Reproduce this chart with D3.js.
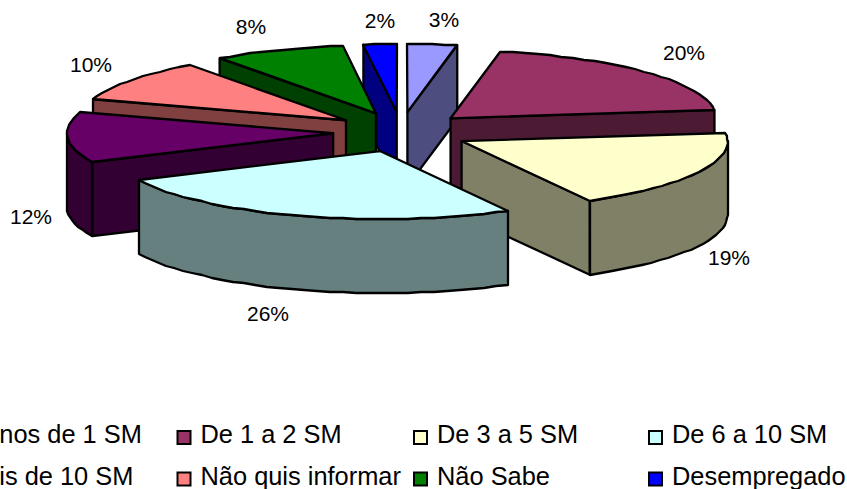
<!DOCTYPE html>
<html>
<head>
<meta charset="utf-8">
<script src="https://cdn.jsdelivr.net/npm/d3@7/dist/d3.min.js"></script>
<style>
  html, body { margin: 0; padding: 0; background: #fff; overflow: hidden; }
  text { font-family: "Liberation Sans", Arial, sans-serif; fill: #000; }
</style>
</head>
<body>
<svg id="chart" width="847" height="489"></svg>
<script>
// Income bands of respondents, in salários mínimos
const categories = ["Menos de 1 SM", "De 1 a 2 SM", "De 3 a 5 SM", "De 6 a 10 SM",
                    "Mais de 10 SM", "Não quis informar", "Não Sabe", "Desempregado"];
const shares = [3, 20, 19, 26, 12, 10, 8, 2];
const topColors = ["#9999FF", "#993366", "#FFFFCC", "#CCFFFF", "#660066", "#FF8080", "#008000", "#0000FF"];
const wallColors = ["#4D4D80", "#4D1A33", "#808066", "#668080", "#330033", "#804040", "#004000", "#000080"];

// Back-to-front drawing order of the wedges
const paintOrder = [0, 7, 6, 5, 4, 1, 2, 3];

// Label anchors (centre x, baseline y)
const labelX = [444, 684, 729, 268, 31, 91, 251, 380];
const labelY = [27, 60, 265, 321, 224, 72, 34, 28];

// Legend layout
const legendCols = [-60, 176.5, 413, 648];
const legendRows = [443, 484.5];
const legendTextGap = 24;

const cx = 401, cy = 132, rx = 266, ry = 68, depth = 74, explodeX = 68, explodeY = 20;

const svg = d3.select("#chart");

// The unit circle maps to the tilted ellipse of the pie
const sx = d3.scaleLinear().domain([-1, 1]).range([-rx, rx]);
const sy = d3.scaleLinear().domain([-1, 1]).range([-ry, ry]);

const pie = d3.pie().sort(null).startAngle(0).endAngle(2 * Math.PI);
const arcs = pie(shares);

const line = d3.line().x(p => p[0]).y(p => p[1]);

function rimPoint(w, a, dz) {
  return [w.ox + sx(Math.sin(a)), w.oy - sy(Math.cos(a)) + dz];
}
function arcPoints(w, a0, a1, dz) {
  const steps = Math.max(2, Math.ceil((a1 - a0) / 0.05));
  return d3.range(steps + 1).map(i => {
    const p = rimPoint(w, a0 + (a1 - a0) * i / steps, dz);
    return [Math.round(p[0]), Math.round(p[1])];
  });
}

const wedges = arcs.map((d, i) => {
  const mid = (d.startAngle + d.endAngle) / 2;
  return {
    i, a0: d.startAngle, a1: d.endAngle,
    ox: cx + explodeX * Math.sin(mid),
    oy: cy - explodeY * Math.cos(mid)
  };
});

const drawFace = (g, pts, fill) => g.append("path")
  .attr("d", line(pts) + "Z")
  .attr("fill", fill)
  .attr("stroke", "#000")
  .attr("stroke-width", 2.3)
  .attr("stroke-linejoin", "round");

paintOrder.forEach(i => {
  const w = wedges[i];
  const g = svg.append("g").attr("class", "wedge");
  const apex = [w.ox, w.oy], apexLow = [w.ox, w.oy + depth];

  // Cut faces turned towards the viewer
  if (Math.sin(w.a0) < -1e-6) {
    const p = rimPoint(w, w.a0, 0), q = rimPoint(w, w.a0, depth);
    drawFace(g, [apex, p, q, apexLow], wallColors[i]);
  }
  if (Math.sin(w.a1) > 1e-6) {
    const p = rimPoint(w, w.a1, 0), q = rimPoint(w, w.a1, depth);
    drawFace(g, [apex, p, q, apexLow], wallColors[i]);
  }

  // Outer rim on the near half of the ellipse
  const lo = Math.max(w.a0, Math.PI / 2), hi = Math.min(w.a1, 3 * Math.PI / 2);
  if (hi > lo) {
    const upper = arcPoints(w, lo, hi, 0);
    const lower = arcPoints(w, lo, hi, depth).reverse();
    drawFace(g, upper.concat(lower), wallColors[i]);
  }

  // Top face
  drawFace(g, [apex].concat(arcPoints(w, w.a0, w.a1, 0)), topColors[i]);
});

// Percentage labels
svg.append("g").selectAll("text").data(shares).join("text")
  .attr("x", (d, i) => labelX[i])
  .attr("y", (d, i) => labelY[i])
  .attr("text-anchor", "middle")
  .attr("font-size", 21)
  .text(d => d + "%");

// Legend, two rows of four; the first column runs past the left edge of the page
const legend = svg.append("g").selectAll("g").data(categories).join("g")
  .attr("transform", (d, i) => `translate(${legendCols[i % 4]},${legendRows[Math.floor(i / 4)]})`);
legend.append("rect")
  .attr("x", 1).attr("y", -12).attr("width", 13).attr("height", 13)
  .attr("fill", (d, i) => topColors[i])
  .attr("stroke", "#000").attr("stroke-width", 2);
legend.append("text")
  .attr("x", legendTextGap).attr("y", 0)
  .attr("font-size", 25.4)
  .text(d => d);
</script>
</body>
</html>
